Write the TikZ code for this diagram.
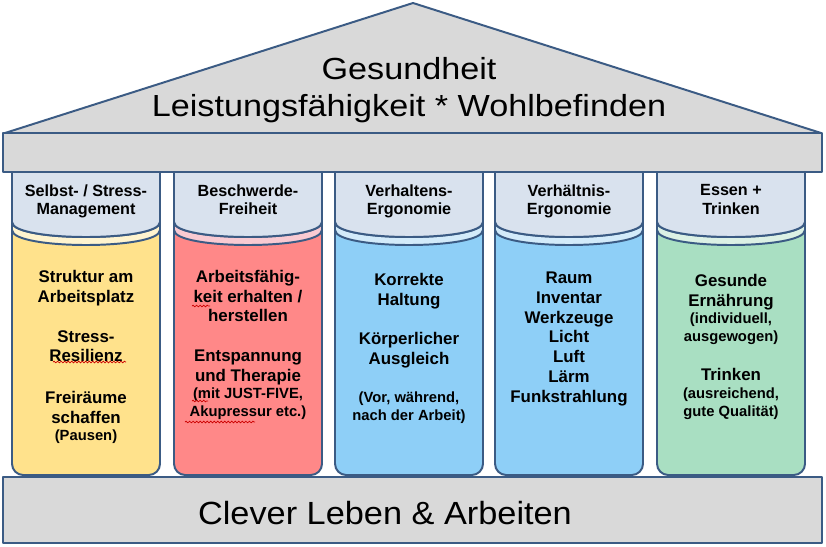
\documentclass[tikz,border=0pt]{standalone}
\usepackage{fontspec}
\setmainfont{Liberation Sans}
\newfontfamily\roofwide[FakeStretch=1.12]{Liberation Sans}
\newfontfamily\basewide[FakeStretch=1.07]{Liberation Sans}
\usetikzlibrary{decorations.pathmorphing}
\definecolor{edge}{HTML}{3B5B84}
\definecolor{stone}{HTML}{D9D9D9}
\definecolor{capfill}{HTML}{D9E2EE}
\definecolor{yel}{HTML}{FFE28C}
\definecolor{yelt}{HTML}{FFF4CF}
\definecolor{rosa}{HTML}{FF8888}
\definecolor{rosat}{HTML}{F9CAD2}
\definecolor{sky}{HTML}{8ECFF7}
\definecolor{skyt}{HTML}{D3EBFA}
\definecolor{mint}{HTML}{A9DFC2}
\definecolor{mintt}{HTML}{DCF1E5}

\begin{document}
\begin{tikzpicture}[x=0.025cm, y=-0.025cm,
      stone part/.style={
         draw=edge,
         line width=1.4pt,
         line join=round,
         fill=stone
      },
      capital/.style={
         draw=edge,
         line width=1.4pt,
         fill=capfill
      },
      shaft/.style={
         draw=edge,
         line width=1.4pt,
         rounded corners=8pt
      },
      band/.style={draw=edge, line width=1.4pt},
      cap text/.style={
         anchor=north,
         inner sep=0pt,
         align=center,
         font=\bfseries\fontsize{11.5}{13.5}\selectfont
      },
      pillar text/.style={
         anchor=north,
         inner sep=0pt,
         align=center,
         font=\bfseries\fontsize{12}{14}\selectfont
      },
      small text/.style={
         anchor=north,
         inner sep=0pt,
         align=center,
         font=\bfseries\fontsize{10.5}{12.5}\selectfont
      },
      spell/.style={draw=red!80!black, line width=0.5pt,
         decorate, decoration={snake, amplitude=0.6pt, segment length=2.5pt}}
    ]
    \path[fill=white, use as bounding box] (0,0) rectangle (826,546);

    % pillars: shaft, band, capital
    \draw[shaft, fill=yel] (12,200) -- (12,475) -- (160,475) -- (160,200) -- cycle;
    \draw[band, fill=yelt] (12,222) .. controls (12,242) and (160,242) .. (160,222) -- (160,230) .. controls (160,250) and (12,250) .. (12,230) -- cycle;
    \draw[capital] (12,172) -- (12,222) .. controls (12,242) and (160,242) .. (160,222) -- (160,172) -- cycle;

    \draw[shaft, fill=rosa] (174,200) -- (174,475) -- (322,475) -- (322,200) -- cycle;
    \draw[band, fill=rosat] (174,222) .. controls (174,242) and (322,242) .. (322,222) -- (322,230) .. controls (322,250) and (174,250) .. (174,230) -- cycle;
    \draw[capital] (174,172) -- (174,222) .. controls (174,242) and (322,242) .. (322,222) -- (322,172) -- cycle;

    \draw[shaft, fill=sky] (335,200) -- (335,475) -- (483,475) -- (483,200) -- cycle;
    \draw[band, fill=skyt] (335,222) .. controls (335,242) and (483,242) .. (483,222) -- (483,230) .. controls (483,250) and (335,250) .. (335,230) -- cycle;
    \draw[capital] (335,172) -- (335,222) .. controls (335,242) and (483,242) .. (483,222) -- (483,172) -- cycle;

    \draw[shaft, fill=sky] (495,200) -- (495,475) -- (643,475) -- (643,200) -- cycle;
    \draw[band, fill=skyt] (495,222) .. controls (495,242) and (643,242) .. (643,222) -- (643,230) .. controls (643,250) and (495,250) .. (495,230) -- cycle;
    \draw[capital] (495,172) -- (495,222) .. controls (495,242) and (643,242) .. (643,222) -- (643,172) -- cycle;

    \draw[shaft, fill=mint] (657,200) -- (657,475) -- (805,475) -- (805,200) -- cycle;
    \draw[band, fill=mintt] (657,222) .. controls (657,242) and (805,242) .. (805,222) -- (805,230) .. controls (805,250) and (657,250) .. (657,230) -- cycle;
    \draw[capital] (657,172) -- (657,222) .. controls (657,242) and (805,242) .. (805,222) -- (805,172) -- cycle;

    % roof, beam, base
    \draw[stone part] (3,133) rectangle (822,172);
    \draw[stone part] (5,133) -- (413,3) -- (821,133) -- cycle;
    \draw[stone part] (3,477) rectangle (822,543);

    \node (roof) [anchor=north, inner sep=0pt, align=center,
       font=\roofwide\fontsize{21.7}{26.3}\selectfont] at (409,57)
       {Gesundheit\\Leistungsfähigkeit * Wohlbefinden};
    \node (base) [anchor=north, inner sep=0pt,
       font=\basewide\fontsize{22.8}{27}\selectfont] at (385,501)
       {Clever Leben \& Arbeiten};

    % capitals
    \node (c1) [cap text] at (86,184) {Selbst- / Stress-\\Management};
    \node (c2) [cap text] at (248,184) {Beschwerde-\\Freiheit};
    \node (c3) [cap text] at (409,184) {Verhaltens-\\Ergonomie};
    \node (c4) [cap text] at (569,184) {Verhältnis-\\Ergonomie};
    \node (c5) [cap text] at (731,184) {Essen +\\Trinken};

    % shafts
    \node (t11) [pillar text] at (86,270) {Struktur am\\Arbeitsplatz};
    \node (t12) [pillar text] at (86,330) {Stress-\\Resilienz};
    \node (t13) [pillar text] at (86,391) {Freiräume\\schaffen};
    \node (t14) [small text] at (86,430) {(Pausen)};

    \node (t21) [pillar text] at (248,270) {Arbeitsfähig-\\keit erhalten /\\herstellen};
    \node (t22) [pillar text] at (248,350) {Entspannung\\und Therapie};
    \node (t23) [small text] at (248,388) {(mit JUST-FIVE,\\Akupressur etc.)};

    \node (t31) [pillar text] at (409,273) {Korrekte\\Haltung};
    \node (t32) [pillar text] at (409,332) {Körperlicher\\Ausgleich};
    \node (t33) [small text] at (409,392) {(Vor, während,\\nach der Arbeit)};

    \node (t41) [pillar text] at (569,272) {Raum\\Inventar\\Werkzeuge\\Licht\\Luft\\Lärm\\Funkstrahlung};

    \node (t51) [pillar text] at (731,274) {Gesunde\\Ernährung};
    \node (t52) [small text] at (731,313) {(individuell,\\ausgewogen)};
    \node (t53) [pillar text] at (731,368) {Trinken};
    \node (t54) [small text] at (731,388) {(ausreichend,\\gute Qualität)};

    % spell check marks
    \draw[spell] (53,362) -- (126,362);
    \draw[spell] (192,306) -- (210,306);
    \draw[spell] (192,401) -- (208,401);
    \draw[spell] (185,422) -- (255,422);
\end{tikzpicture}
\end{document}
